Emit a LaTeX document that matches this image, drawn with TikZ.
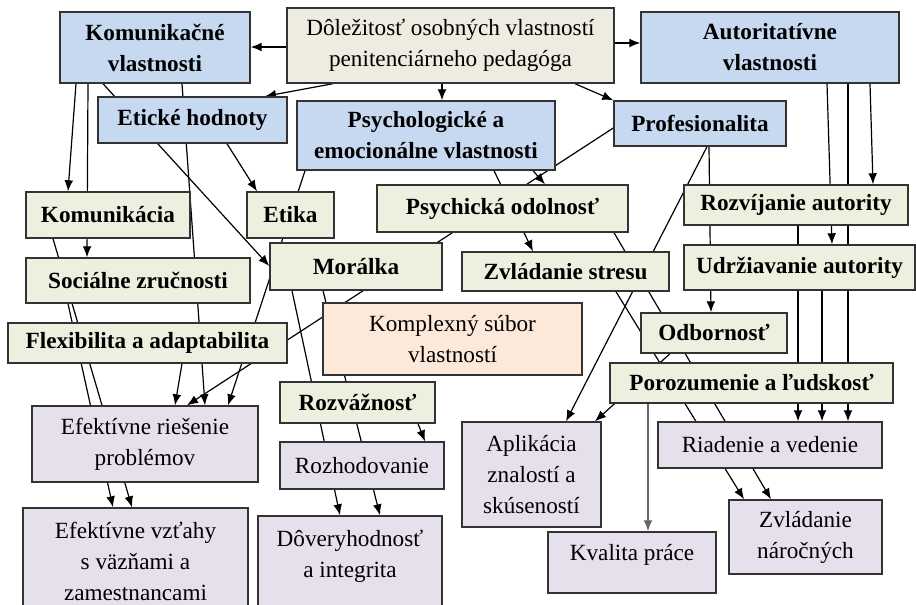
\documentclass[tikz,border=0pt]{standalone}
\usepackage{fontspec}
\setmainfont{Liberation Serif}
\usepackage{xcolor}
\usetikzlibrary{arrows.meta,backgrounds}
\definecolor{blueC}{HTML}{C6D9F1}
\definecolor{greenC}{HTML}{EBF1DE}
\definecolor{beigeC}{HTML}{EEECE1}
\definecolor{peachC}{HTML}{FDE9D9}
\definecolor{lilaC}{HTML}{E5E0EC}

\begin{document}
\begin{tikzpicture}[x=0.5pt,y=-0.5pt]

\tikzset{box/.style = {draw=black!80, line width=0.7pt, inner sep=2pt, align=center, text=black, font=\fontsize{11.6}{15.5}\selectfont}}
\tikzset{sz/.style 2 args = {minimum width=#1*0.5pt, minimum height=#2*0.5pt}}
\tikzset{blu/.style = {box, fill=blueC, font=\fontsize{11.6}{15.5}\selectfont\bfseries}}
\tikzset{grn/.style = {box, fill=greenC, font=\fontsize{11.6}{15.5}\selectfont\bfseries}}
\tikzset{beige/.style = {box, fill=beigeC}}
\tikzset{peach/.style = {box, fill=peachC}}
\tikzset{lila/.style = {box, fill=lilaC}}
\tikzset{edge/.style = {->, > = {Latex[length=5.5pt,width=4.4pt]}, line width=0.6pt}}

\useasboundingbox (0,0) rectangle (916,605);

\node[beige,sz={327}{75}] (dol) at (450.5,45.5) {Dôležitosť osobných vlastností\\penitenciárneho pedagóga};
\node[blu,sz={190}{71}] (komv) at (155,47.5) {Komunikačné\\vlastnosti};
\node[blu,sz={258}{71}] (autv) at (770,47.5) {Autoritatívne\\vlastnosti};
\node[blu,sz={189}{46}] (etih) at (192.5,120) {Etické hodnoty};
\node[blu,sz={258}{69}] (psyv) at (426,135.5) {Psychologické a\\emocionálne vlastnosti};
\node[blu,sz={172}{45}] (prof) at (700,123.5) {Profesionalita};
\node[grn,sz={164}{46}] (komu) at (108,215) {Komunikácia};
\node[grn,sz={87}{46}] (etika) at (290.5,215) {Etika};
\node[grn,sz={251}{47}] (psod) at (502.5,208.5) {Psychická odolnosť};
\node[grn,sz={224}{40}] (rozv) at (796,205) {Rozvíjanie autority};
\node[grn,sz={224}{45}] (socz) at (138,280.5) {Sociálne zručnosti};
\node[grn,sz={172}{47}] (mora) at (356,266.5) {Morálka};
\node[grn,sz={207}{39}] (zvst) at (565.5,271.5) {Zvládanie stresu};
\node[grn,sz={231}{45}] (udrz) at (799.5,267.5) {Udržiavanie autority};
\node[grn,sz={279}{40}] (flex) at (147.5,343) {Flexibilita a adaptabilita};
\node[peach,sz={259}{72}] (komp) at (452.5,339) {Komplexný súbor\\vlastností};
\node[grn,sz={146}{40}] (odbo) at (714,333) {Odbornosť};
\node[grn,sz={283}{40}] (poro) at (751.5,383) {Porozumenie a ľudskosť};
\node[grn,sz={155}{41}] (rozz) at (357.5,402.5) {Rozvážnosť};
\node[lila,sz={226}{76}] (efri) at (145,444) {Efektívne riešenie\\problémov};
\node[lila,sz={164}{47}] (rozh) at (362,465.5) {Rozhodovanie};
\node[lila,sz={139}{105}] (apli) at (531.5,474.5) {Aplikácia\\znalostí a\\skúseností};
\node[lila,sz={224}{46}] (riad) at (770,445) {Riadenie a vedenie};
\node[lila,sz={225}{107}] (efvz) at (135.5,561.5) {Efektívne vzťahy\\s väzňami a\\zamestnancami};
\node[lila,sz={184}{96},text depth=10pt] (dove) at (350,564) {Dôveryhodnosť\\a integrita};
\node[lila,sz={168}{61},text depth=10pt] (kval) at (632,562.5) {Kvalita práce};
\node[lila,sz={153}{74}] (zvna) at (805.5,537) {Zvládanie\\náročných};

%edges
\begin{scope}[on background layer]
\draw[edge] (dol.west |- 0,47) to (komv.east |- 0,47);
\draw[edge] (dol.east |- 0,43) to (autv.west |- 0,43);
\draw[edge] (dol.south -| 333,0) to (etih.north -| 265,0);
\draw[edge] (dol.south -| 442,0) to (psyv.north -| 442,0);
\draw[edge] (dol.south -| 575,0) to (prof.north west);
\draw[edge] (komv.south -| 76,0) to (komu.north -| 68,0);
\draw[edge] (komv.south -| 88,0) to (socz.north -| 87,0);
\draw[edge] (komv.south -| 103,0) to (mora.west |- 0,266);
\draw[edge] (komv.south -| 182,0) to (efri.north -| 205,0);
\draw[edge] (etih.south -| 227,0) to (etika.north -| 257,0);
\draw[edge] (psyv.south -| 305,0) to (efri.north -| 228,0);
\draw[edge] (psyv.south -| 533,0) to (psod.north -| 545,0);
\draw[edge] (psyv.south -| 494,0) to (zvst.north -| 533,0);
\draw[edge] (prof.west |- 0,128) to (efri.north -| 187,0);
\draw[edge] (prof.south -| 707,0) to (apli.north -| 566,0);
\draw[edge] (prof.south -| 709,0) to (odbo.north -| 711,0);
\draw[edge] (psod.south -| 614,0) to (zvna.north -| 771,0);
\draw[edge] (zvst.south -| 616,0) to (zvna.north -| 744,0);
\draw[edge] (autv.south -| 870,0) to (rozv.north -| 873,0);
\draw[edge] (autv.south -| 827,0) to (udrz.north -| 832,0);
\draw[edge] (autv.south -| 848,0) to (riad.north -| 848,0);
\draw[edge] (rozv.south -| 798,0) to (riad.north -| 798,0);
\draw[edge] (udrz.south -| 822,0) to (riad.north -| 822,0);
\draw[edge] (odbo.south -| 670,0) to (apli.north -| 595,0);
\draw[edge,black!60] (poro.south -| 648,0) to (kval.north -| 648,0);
\draw[edge] (komu.south -| 53,0) to (efvz.north -| 132,0);
\draw[edge] (socz.south -| 68,0) to (efvz.north -| 113,0);
\draw[edge] (flex.south -| 182,0) to (efri.north -| 175,0);
\draw[edge] (mora.south -| 292,0) to (dove.north -| 340,0);
\draw[edge] (mora.south -| 323,0) to (dove.north -| 380,0);
\draw[edge] (rozz.south -| 418,0) to (rozh.north -| 425,0);
\end{scope}
\end{tikzpicture}
\end{document}
